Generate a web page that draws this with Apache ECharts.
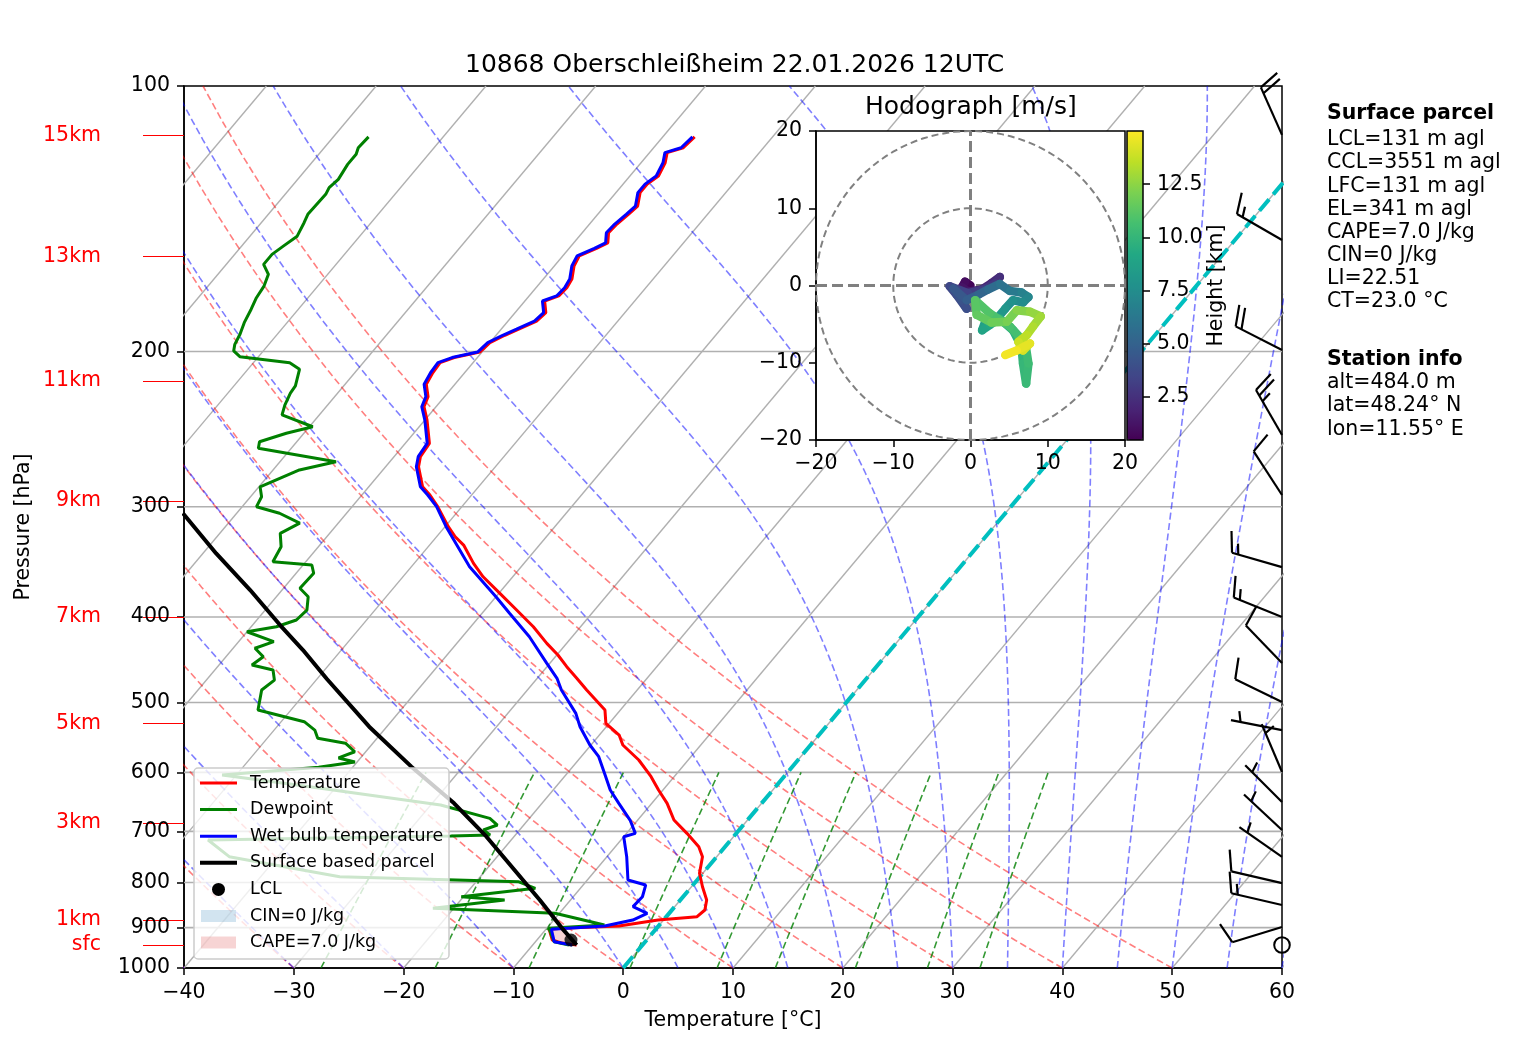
<!DOCTYPE html>
<html>
<head>
<meta charset="utf-8">
<title>Skew-T 10868 Oberschleißheim</title>
<script src="https://cdn.jsdelivr.net/npm/echarts@6/dist/echarts.min.js"></script>
<style>
html, body { margin: 0; padding: 0; background: #fff; }
#chart { width: 1517px; height: 1054px; }
</style>
</head>
<body>
<div id="chart"></div>
<script>
// sounding values (pressure hPa, temperature degC)
var tempP = [114.2,117.5,119.0,122.2,126.5,129.2,132.1,136.8,139.7,143.4,146.7,150.6,152.8,155.8,160.0,165.5,169.3,173.0,175.3,180.7,
  184.7,188.7,191.7,195.4,200.3,203.2,205.9,211.4,217.9,225.0,231.0,239.2,254.2,263.2,270.2,284.7,290.9,299.9,316.0,324.4,
  331.5,347.7,360.1,376.1,392.8,410.3,428.5,441.7,455.4,469.4,484.0,510.0,528.0,544.3,558.7,581.0,606.9,628.4,650.6,679.6,
  703.6,728.6,747.8,780.9,808.8,837.4,859.5,874.6,882.3,896.3,901.6,904.0,929.5,937.0,941.7];
var tempC = [-57.1,-57.3,-58.4,-57.8,-57.4,-57.8,-57.8,-57.0,-57.2,-57.5,-57.6,-56.9,-57.5,-58.5,-58.2,-57.4,-57.2,-57.3,-58.2,-57.2,
  -57.4,-58.4,-59.2,-60.0,-60.2,-62.1,-63.0,-62.9,-62.6,-61.5,-61.1,-59.8,-57.8,-57.6,-57.0,-55.1,-53.8,-52.2,-49.7,-48.3,
  -46.9,-44.6,-42.7,-39.9,-37.1,-34.3,-31.8,-29.9,-28.2,-26.4,-24.6,-21.4,-20.3,-18.2,-17.1,-14.5,-12.1,-10.4,-8.6,-6.7,
  -4.5,-2.4,-1.3,-0.3,1.0,2.4,3.0,2.8,-0.5,-3.6,-8.6,-9.7,-8.6,-7.5,-6.0];

var wbP = [114.2,117.5,119.0,122.2,126.5,129.2,132.1,136.8,139.7,143.4,146.7,150.6,152.8,155.8,160.0,165.5,169.3,173.0,175.3,180.7,
  184.7,188.7,191.7,195.4,200.3,203.2,205.9,211.4,217.9,225.0,231.0,239.2,254.2,263.2,270.2,284.7,290.9,
  299.9,316.0,350.8,379.4,396.1,421.1,451.2,469.4,484.0,514.4,532.6,558.7,576.0,601.6,628.4,650.6,679.6,703.6,709.8,
  747.8,794.8,805.3,830.3,852.0,866.9,882.3,896.3,904.0,933.6,941.7];
var wbC = [-57.3,-57.5,-58.6,-58.0,-57.6,-58.0,-58.0,-57.2,-57.4,-57.7,-57.8,-57.1,-57.7,-58.7,-58.4,-57.6,-57.4,-57.5,-58.4,-57.4,
  -57.6,-58.6,-59.4,-60.2,-60.4,-62.3,-63.2,-63.1,-62.8,-61.7,-61.3,-60.0,-58.0,-57.8,-57.2,-55.3,-54.0,
  -52.3,-49.9,-44.7,-40.0,-37.5,-33.9,-30.3,-28.2,-26.9,-23.8,-22.4,-20.1,-18.4,-16.6,-14.8,-13.0,-10.7,-9.2,-10.0,
  -8.2,-6.3,-4.3,-3.7,-3.8,-2.0,-2.8,-4.9,-9.5,-8.3,-6.4];

var dewP = [114.2,117.5,119.5,122.7,127.6,130.4,132.7,139.8,142.9,148.0,151.9,155.2,159.3,163.5,168.6,173.8,179.1,185.5,191.2,196.3,
  199.7,202.7,205.9,209.5,218.8,223.0,230.0,236.0,243.4,247.6,253.1,257.5,266.7,272.5,284.7,292.2,299.9,305.1,313.1,321.5,
  332.9,346.2,349.2,356.8,371.1,379.4,392.8,403.1,410.3,415.7,426.6,434.0,443.7,453.4,459.3,471.6,484.0,510.0,525.7,537.3,
  549.0,556.1,568.6,577.9,584.0,592.1,604.2,620.2,653.5,676.6,688.5,697.5,706.7,708.5,716.0,747.8,788.1,798.5,812.2,830.3,
  837.4,855.7,866.9,893.9,901.6,933.6,941.7];
var dewC = [-86.8,-86.9,-86.6,-86.6,-86.3,-86.5,-86.3,-86.4,-86.1,-85.7,-86.2,-86.6,-86.6,-85.4,-84.9,-84.7,-84.3,-83.9,-83.4,-83.1,
  -82.7,-81.7,-76.7,-75.3,-74.4,-74.3,-73.9,-73.4,-69.7,-71.6,-73.4,-73.0,-64.9,-67.6,-69.9,-69.0,-68.7,-66.1,-63.5,-64.5,
  -63.4,-63.0,-59.2,-58.4,-58.5,-57.1,-56.2,-56.4,-57.7,-60.0,-56.8,-58.0,-56.6,-57.0,-54.7,-53.8,-54.2,-53.0,-47.9,-46.3,
  -45.4,-42.5,-41.0,-42.0,-40.2,-43.1,-51.3,-43.7,-29.1,-23.6,-22.4,-23.3,-22.3,-25.8,-47.6,-44.4,-32.8,-16.1,-14.1,-20.2,
  -16.0,-21.9,-10.4,-5.0,-9.8,-8.3,-6.7];

var parcelP = [941.7,901.6,837.4,767.7,709.8,650.6,591.2,532.6,470.3,436.0,408.5,372.8,338.8,305.1];
var parcelC = [-6.0,-8.6,-12.8,-17.9,-22.5,-28.0,-34.7,-41.6,-49.1,-53.5,-57.5,-62.9,-68.8,-74.9];
var lclP = [929.5];
var lclC = [-6.9];

// wind barbs: pressure, direction (deg, from), speed (kt)
var barbP   = [113.6,149.5,199.2,248.7,290.9,351.1,400.0,451.0,499.4,537.3,599.4,648.4,697.5,748.3,801.2,848.3,898.5,941.7];
var barbDir = [336,300,297,330,327,286,292,316,296,281,337,315,313,305,283,283,253,0];
var barbKt  = [20,15,20,25,10,15,15,10,10,5,5,5,5,5,10,15,10,0];

// hodograph (m/s) and height (km)
var hodoU = [0.0,-0.7,-1.1,-0.3,1.5,2.7,3.8,3.2,1.7,-0.3,-2.7,-1.8,-0.5,-1.1,-2.2,-0.5,1.0,2.3,3.8,5.1,
  6.6,7.5,6.8,5.5,4.5,3.4,1.9,1.5,2.5,3.8,5.5,6.6,6.8,7.2,7.5,7.1,5.1,2.5,0.6,0.8,
  2.7,4.7,6.0,7.7,9.1,8.1,7.3,6.2,6.8,7.7,6.0,4.5];
var hodoV = [0.0,0.5,-0.2,-0.8,-0.5,0.3,1.1,0.3,-0.5,-1.0,-0.1,-1.2,-3.0,-1.9,-0.4,-1.9,-1.2,-0.5,0.2,-0.7,
  -0.9,-1.5,-2.2,-1.9,-3.0,-4.3,-4.7,-5.8,-5.1,-4.3,-5.8,-7.9,-10.1,-12.7,-10.1,-7.5,-5.3,-3.6,-1.9,-3.8,
  -4.8,-4.7,-3.2,-3.4,-4.0,-5.3,-6.4,-7.3,-8.4,-7.5,-8.4,-9.0];
var hodoH = [0.5,0.8,1.1,1.4,1.7,2.0,2.3,2.6,2.9,3.2,3.5,3.7,3.9,4.1,4.3,4.6,5.0,5.4,5.8,6.2,
  6.6,7.0,7.3,7.6,7.9,8.2,8.5,8.8,9.1,9.3,9.6,9.8,10.0,10.15,10.3,10.5,10.7,10.9,11.1,11.3,
  11.6,11.9,12.2,12.5,12.8,13.1,13.4,13.7,14.0,14.3,14.6,14.9];

var pressureTicks = [100,200,300,400,500,600,700,800,900,1000];
var kmP = [113.8,156.1,216.1,295.5,400.0,528.5,684.8,882.3,941.7];
var kmLabels = ['15km','13km','11km','9km','7km','5km','3km','1km','sfc'];
var heightTicks = [2.5,5.0,7.5,10.0,12.5];

var parcelText = ['LCL=131 m agl','CCL=3551 m agl','LFC=131 m agl','EL=341 m agl','CAPE=7.0 J/kg','CIN=0 J/kg','LI=22.51','CT=23.0 °C'];
var stationText = ['alt=484.0 m','lat=48.24° N','lon=11.55° E'];

var FONT = 'DejaVu Sans';
var SKEW = 67.5;   // degC per decade of pressure
function lp(p) { return Math.log10(p); }
function skx(t, p) { return t + SKEW * Math.log10(1000 / p); }
function prof(ps, ts) { return ps.map(function (p, i) { return [skx(ts[i], p), lp(p)]; }); }
function minus(v) { return String(v).replace('-', '\u2212'); }

var chart = echarts.init(document.getElementById('chart'));
var series = [];

function refLine(pts, color, width, dash, z) {
    series.push({
        type: 'line', xAxisIndex: 0, yAxisIndex: 0, data: pts, symbol: 'none',
        silent: true, animation: false, z: z || 1,
        lineStyle: { color: color, width: width, type: dash || 'solid' }
    });
}

// isobars / isotherms
pressureTicks.slice(1, -1).forEach(function (p) {
    refLine([[-40, lp(p)], [60, lp(p)]], '#b0b0b0', 1.6);
});
for (var t = -100; t <= 60; t += 10) {
    refLine([[skx(t, 1000), 3], [skx(t, 100), 2]], '#b0b0b0', 1.4);
}
// dry adiabats
for (var t0 = -40; t0 <= 50; t0 += 10) {
    var dry = [];
    for (var p = 1000; p >= 100; p -= 10) {
        dry.push([skx((t0 + 273.15) * Math.pow(p / 1000, 0.2857) - 273.15, p), lp(p)]);
    }
    refLine(dry, 'rgba(255,0,0,0.5)', 1.6, [7, 3.5]);
}
// moist adiabats
function moistLine(tStart) {
    var Rd = 287.047, Cp = 1004.67, Lv = 2.50084e6, eps = 0.62196;
    function f(p, T) {
        var es = 6.112 * Math.exp(17.67 * (T - 273.15) / (T - 29.65));
        var rs = eps * es / (p - es);
        return (Rd * T + Lv * rs) / (Cp + Lv * Lv * rs * eps / (Rd * T * T)) / p;
    }
    var T = tStart + 273.15, p = 1000, h = -5, pts = [[skx(tStart, 1000), 3]];
    while (p > 100) {
        var k1 = f(p, T), k2 = f(p + h / 2, T + h / 2 * k1), k3 = f(p + h / 2, T + h / 2 * k2), k4 = f(p + h, T + h * k3);
        T += h / 6 * (k1 + 2 * k2 + 2 * k3 + k4);
        p += h;
        pts.push([skx(T - 273.15, p), lp(p)]);
    }
    return pts;
}
[-40, -30, -20, -10, 0, 5, 10, 15, 20, 25, 30, 35, 40, 45, 50, 55, 60].forEach(function (t0) {
    refLine(moistLine(t0), 'rgba(0,0,255,0.5)', 1.6, [7, 3.5]);
});
// mixing ratio lines
[0.0004, 0.001, 0.002, 0.004, 0.007, 0.01, 0.016, 0.024, 0.032].forEach(function (w) {
    var pts = [];
    for (var p = 1000; p >= 600; p -= 10) {
        var e = p * w / (0.62196 + w), val = Math.log(e / 6.112);
        pts.push([skx(243.5 * val / (17.67 - val), p), lp(p)]);
    }
    refLine(pts, 'rgba(0,128,0,0.8)', 1.6, [7, 3.5]);
});
// 0 degC isotherm
refLine([[skx(0, 1000), 3], [skx(0, 100), 2]], '#00bfbf', 4, [15, 6.5], 2);

// CAPE area between parcel and environment near ground
var capePoly = prof(tempP.slice(70), tempC.slice(70)).concat(prof(parcelP.slice(0, 2), parcelC.slice(0, 2)));
series.push({
    type: 'custom', name: 'CAPE', xAxisIndex: 0, yAxisIndex: 0, silent: true, z: 3,
    data: [capePoly[0]],
    renderItem: function (params, api) {
        return { type: 'polygon', shape: { points: capePoly.map(function (d) { return api.coord(d); }) },
                 style: { fill: 'rgba(214,39,40,0.2)' } };
    }
});

function profSeries(name, data, color, width) {
    series.push({
        type: 'line', name: name, xAxisIndex: 0, yAxisIndex: 0, data: data, symbol: 'none',
        animation: false, z: 5, lineStyle: { color: color, width: width }
    });
}
profSeries('Temperature', prof(tempP, tempC), '#ff0000', 3);
profSeries('Dewpoint', prof(dewP, dewC), '#008000', 3);
profSeries('Wet bulb temperature', prof(wbP, wbC), '#0000ff', 3);
profSeries('Surface based parcel', prof(parcelP, parcelC), '#000000', 4);
series.push({
    type: 'scatter', name: 'LCL', xAxisIndex: 0, yAxisIndex: 0, data: prof(lclP, lclC),
    symbol: 'circle', symbolSize: 13, itemStyle: { color: '#000' }, z: 6
});

// wind barbs on the right edge
series.push({
    type: 'custom', name: 'Wind', xAxisIndex: 0, yAxisIndex: 0, clip: false, z: 6, silent: true,
    dimensions: ['x', 'y', 'dir', 'spd'], encode: { x: 0, y: 1 },
    data: barbP.map(function (p, i) { return [60, lp(p), barbDir[i], barbKt[i]]; }),
    renderItem: function (params, api) {
        var b = api.coord([api.value(0), api.value(1)]);
        var spd = api.value(3), st = { stroke: '#000', lineWidth: 2.2, fill: null };
        if (spd < 2.5) {
            return { type: 'circle', shape: { cx: b[0], cy: b[1], r: 7.8 }, style: { stroke: '#000', lineWidth: 2, fill: 'rgba(0,0,0,0)' } };
        }
        var a = api.value(2) * Math.PI / 180, L = 52;
        var dx = Math.sin(a), dy = -Math.cos(a), px = -dy, py = dx;
        var tip = [b[0] + dx * L, b[1] + dy * L];
        var kids = [{ type: 'line', shape: { x1: b[0], y1: b[1], x2: tip[0], y2: tip[1] }, style: st }];
        var sp = 0.125 * L, H = 0.4 * L, W = 0.25 * L, off = 0;
        var r = Math.round(spd / 5) * 5, nFull = Math.floor(r / 10), half = (r % 10) >= 5;
        for (var k = 0; k < nFull; k++) {
            var s = [tip[0] - dx * off, tip[1] - dy * off];
            kids.push({ type: 'line', shape: { x1: s[0], y1: s[1], x2: s[0] + px * H + dx * W / 2, y2: s[1] + py * H + dy * W / 2 }, style: st });
            off += sp;
        }
        if (half) {
            if (off === 0) off = 1.5 * sp;
            var s2 = [tip[0] - dx * off, tip[1] - dy * off];
            kids.push({ type: 'line', shape: { x1: s2[0], y1: s2[1], x2: s2[0] + px * H / 2 + dx * W / 4, y2: s2[1] + py * H / 2 + dy * W / 4 }, style: st });
        }
        return { type: 'group', children: kids };
    }
});

// hodograph decorations
function hodoLine(pts, width, dash) {
    series.push({
        type: 'line', xAxisIndex: 1, yAxisIndex: 2, data: pts, symbol: 'none', silent: true,
        z: 12, lineStyle: { color: '#808080', width: width, type: dash }
    });
}
[10, 20].forEach(function (rr) {
    var c = [];
    for (var ang = 0; ang <= 360; ang += 3) {
        c.push([rr * Math.cos(ang * Math.PI / 180), rr * Math.sin(ang * Math.PI / 180)]);
    }
    hodoLine(c, 2, [7, 4]);
});
hodoLine([[-20, 0], [20, 0]], 3, [11, 5]);
hodoLine([[0, -20], [0, 20]], 3, [11, 5]);

var hodoSeg = [];
for (var i = 0; i < hodoU.length - 1; i++) {
    hodoSeg.push([hodoU[i], hodoV[i], hodoU[i + 1], hodoV[i + 1], (hodoH[i] + hodoH[i + 1]) / 2]);
}
var hodoIndex = series.length;
series.push({
    type: 'custom', name: 'Hodograph', xAxisIndex: 1, yAxisIndex: 2, z: 13, silent: true,
    dimensions: ['u1', 'v1', 'u2', 'v2', 'h'], encode: { x: [0, 2], y: [1, 3] },
    data: hodoSeg,
    renderItem: function (params, api) {
        var a = api.coord([api.value(0), api.value(1)]), b = api.coord([api.value(2), api.value(3)]);
        return { type: 'line', shape: { x1: a[0], y1: a[1], x2: b[0], y2: b[1] },
                 style: { stroke: api.visual('color'), lineWidth: 8.5, lineCap: 'round' } };
    }
});

var viridis = ['#440154', '#482475', '#414487', '#355f8d', '#2a788e', '#21918c', '#22a884', '#44bf70', '#7ad151', '#bddf26', '#fde725'];

// legend and text panels
var graphic = [{
    type: 'rect', z: 100, shape: { x: 194, y: 768, width: 255, height: 191, r: 4 },
    style: { fill: 'rgba(255,255,255,0.8)', stroke: '#cccccc', lineWidth: 1.5 }
}];
var legendItems = [
    ['Temperature', 'line', '#ff0000', 3], ['Dewpoint', 'line', '#008000', 3],
    ['Wet bulb temperature', 'line', '#0000ff', 3], ['Surface based parcel', 'line', '#000000', 4],
    ['LCL', 'dot', '#000', 0], ['CIN=0 J/kg', 'patch', 'rgba(31,119,180,0.2)', 0],
    ['CAPE=7.0 J/kg', 'patch', 'rgba(214,39,40,0.2)', 0]
];
legendItems.forEach(function (it, k) {
    var y = 783 + k * 26.6;
    if (it[1] === 'line') {
        graphic.push({ type: 'line', z: 101, shape: { x1: 200, y1: y, x2: 237, y2: y }, style: { stroke: it[2], lineWidth: it[3] } });
    } else if (it[1] === 'dot') {
        graphic.push({ type: 'circle', z: 101, shape: { cx: 218.5, cy: y, r: 6.5 }, style: { fill: it[2] } });
    } else {
        graphic.push({ type: 'rect', z: 101, shape: { x: 201, y: y - 6, width: 35, height: 12 }, style: { fill: it[2] } });
    }
    graphic.push({ type: 'text', z: 101, x: 250, y: y, style: { text: it[0], fontSize: 17.5, fontFamily: FONT, fill: '#000', verticalAlign: 'middle' } });
});
function sideText(txt, y, bold) {
    graphic.push({ type: 'text', z: 100, x: 1327, y: y, style: { text: txt, fontSize: 20.5, fontFamily: FONT, fontWeight: bold ? 'bold' : 'normal', fill: '#000', verticalAlign: 'middle' } });
}
sideText('Surface parcel', 114, true);
parcelText.forEach(function (s, k) { sideText(s, 140 + k * 23.1, false); });
sideText('Station info', 360, true);
stationText.forEach(function (s, k) { sideText(s, 383 + k * 23.1, false); });

var tickLP = pressureTicks.map(lp);
var kmLP = kmP.map(lp);
var axisTxt = { fontSize: 20.5, color: '#000', fontFamily: FONT };
var blackLine = { show: true, onZero: false, lineStyle: { color: '#000', width: 1.5 } };
var blackTick = { length: 7, lineStyle: { color: '#000', width: 1.5 } };

var option = {
    animation: false,
    backgroundColor: '#fff',
    textStyle: { fontFamily: FONT },
    title: [
        { text: '10868 Oberschleißheim 22.01.2026 12UTC', left: 465, top: 53, padding: 0,
          textStyle: { fontSize: 25, fontWeight: 'normal', color: '#000', fontFamily: FONT } },
        { text: 'Hodograph [m/s]', left: 865, top: 95, padding: 0,
          textStyle: { fontSize: 25, fontWeight: 'normal', color: '#000', fontFamily: FONT } }
    ],
    grid: [
        { left: 184, top: 86, width: 1098, height: 882, show: true, backgroundColor: '#fff', borderColor: '#000', borderWidth: 1.5, z: 0 },
        { left: 816, top: 131, width: 309, height: 309, show: true, backgroundColor: '#fff', borderColor: '#000', borderWidth: 1.5, z: 10 },
        { left: 1127, top: 131, width: 16, height: 309, show: true, backgroundColor: 'rgba(0,0,0,0)', borderColor: '#000', borderWidth: 1.5, z: 30 }
    ],
    xAxis: [
        { gridIndex: 0, type: 'value', min: -40, max: 60, interval: 10,
          name: 'Temperature [°C]', nameLocation: 'middle', nameGap: 42, nameTextStyle: axisTxt,
          axisLine: blackLine, axisTick: blackTick, splitLine: { show: false },
          axisLabel: Object.assign({ margin: 14, formatter: minus }, axisTxt) },
        { gridIndex: 1, type: 'value', min: -20, max: 20, interval: 10, z: 11,
          axisLine: blackLine, axisTick: blackTick, splitLine: { show: false },
          axisLabel: Object.assign({ margin: 13, formatter: minus }, axisTxt) },
        { gridIndex: 2, type: 'value', min: 0, max: 1, show: false }
    ],
    yAxis: [
        { gridIndex: 0, type: 'value', min: 2, max: 3, inverse: true,
          name: 'Pressure [hPa]', nameLocation: 'middle', nameGap: 150, nameRotate: 90, nameTextStyle: axisTxt,
          axisLine: blackLine, splitLine: { show: false },
          axisTick: Object.assign({ customValues: tickLP }, blackTick),
          axisLabel: Object.assign({ customValues: tickLP, margin: 14,
              formatter: function (v) { return String(Math.round(Math.pow(10, v))); } }, axisTxt) },
        { gridIndex: 0, type: 'value', min: 2, max: 3, inverse: true, position: 'left',
          axisLine: { show: false, onZero: false }, splitLine: { show: false },
          axisTick: { customValues: kmLP, length: 41, lineStyle: { color: '#ff0000', width: 1 } },
          axisLabel: { customValues: kmLP, margin: 83, fontSize: 20.5, color: '#ff0000', fontFamily: FONT,
              formatter: function (v) {
                  var best = 0, bd = 1e9;
                  kmLP.forEach(function (q, k) { var d = Math.abs(q - v); if (d < bd) { bd = d; best = k; } });
                  return kmLabels[best];
              } } },
        { gridIndex: 1, type: 'value', min: -20, max: 20, interval: 10, z: 11,
          axisLine: blackLine, axisTick: blackTick, splitLine: { show: false },
          axisLabel: Object.assign({ margin: 14, formatter: minus }, axisTxt) },
        { gridIndex: 2, type: 'value', min: 0.484, max: 15.0, position: 'right', z: 31,
          name: 'Height [km]', nameLocation: 'middle', nameGap: 56, nameRotate: 90, nameTextStyle: axisTxt,
          axisLine: { show: false, onZero: false }, splitLine: { show: false },
          axisTick: Object.assign({ customValues: heightTicks }, blackTick),
          axisLabel: Object.assign({ customValues: heightTicks, margin: 14,
              formatter: function (v) { return v.toFixed(1); } }, axisTxt) }
    ],
    visualMap: [{
        type: 'continuous', min: 0.484, max: 15.0, dimension: 4, seriesIndex: hodoIndex,
        inRange: { color: viridis }, orient: 'vertical', left: 1127, top: 131,
        itemWidth: 16, itemHeight: 309, padding: 0, calculable: false, hoverLink: false, z: 20
    }],
    graphic: graphic,
    series: series
};
chart.setOption(option);
</script>
</body>
</html>
